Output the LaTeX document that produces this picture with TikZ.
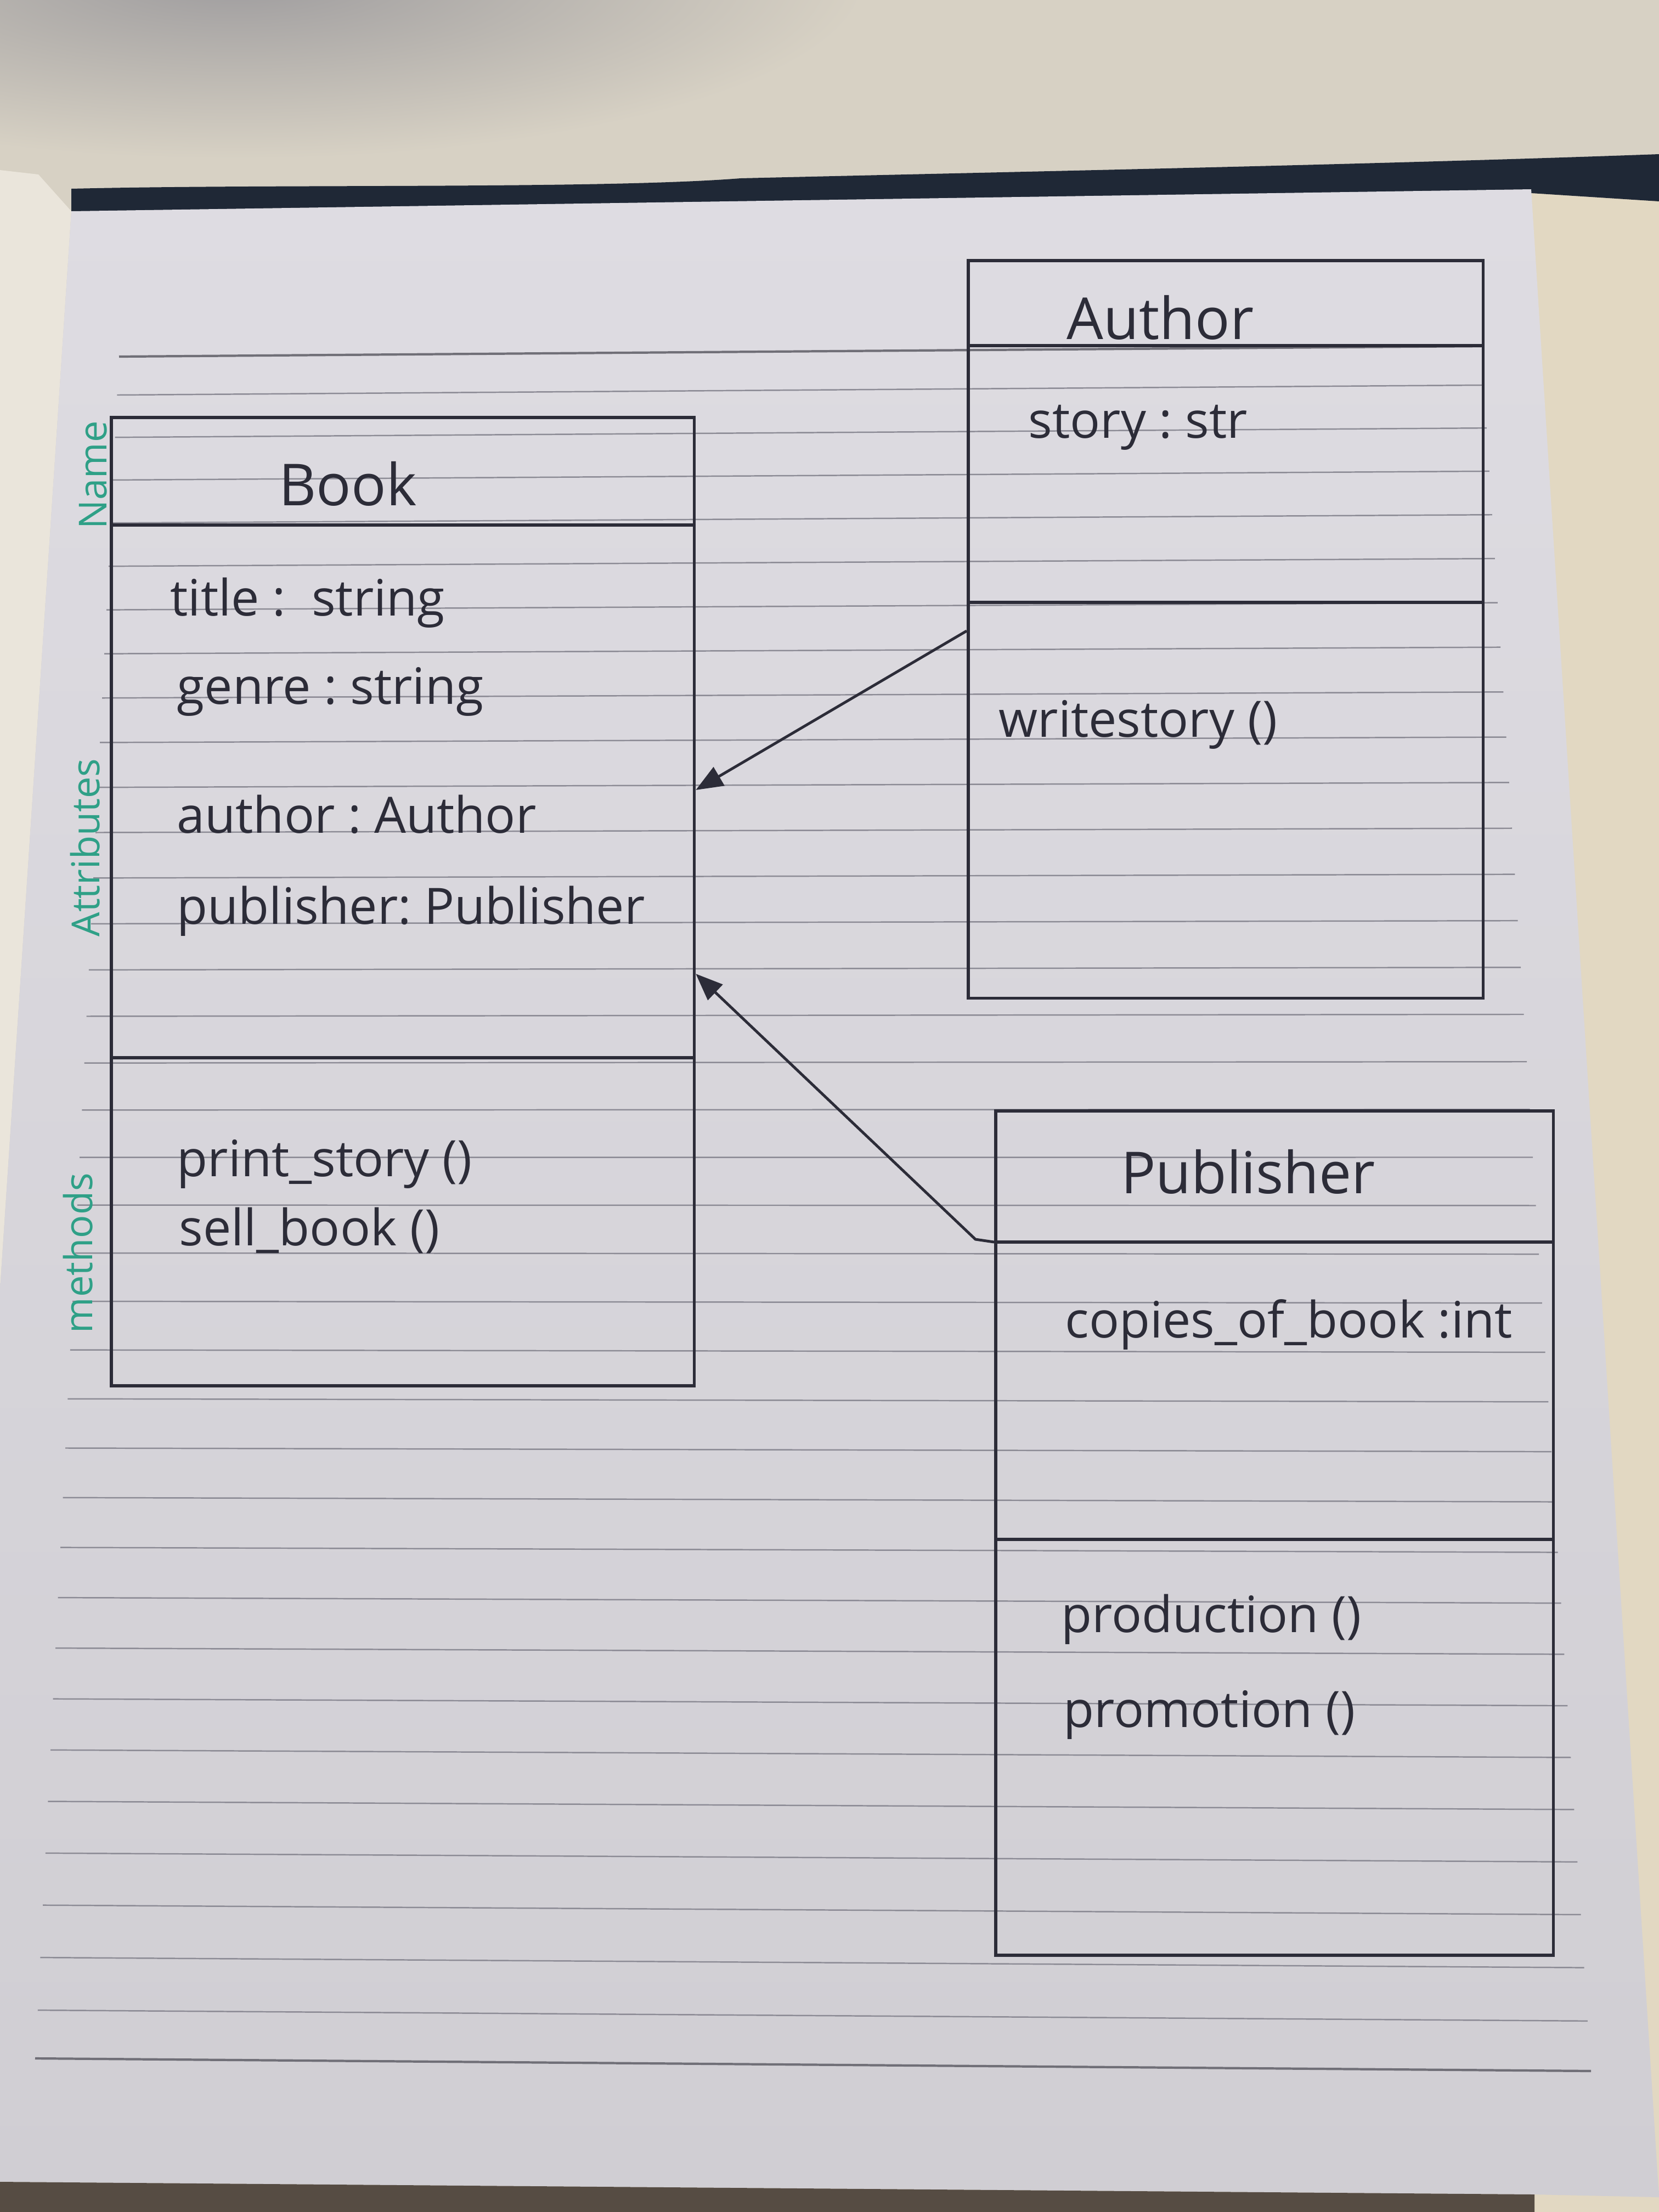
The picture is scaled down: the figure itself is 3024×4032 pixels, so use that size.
\documentclass[tikz,border=0pt]{standalone}
\usepackage{fontspec}
\setmainfont{Open Sans}
\usetikzlibrary{arrows.meta,calc}

\definecolor{desk}{HTML}{D7D1C4}
\definecolor{deskwarm}{HTML}{E2D8C2}
\definecolor{blobc}{HTML}{9E9C9E}
\definecolor{prevpage}{HTML}{EAE5DB}
\definecolor{bindc}{HTML}{1F2836}
\definecolor{papertop}{HTML}{DEDCE2}
\definecolor{paperbot}{HTML}{D0CED3}
\definecolor{floorc}{HTML}{564C43}
\definecolor{rulec}{HTML}{8C8B95}
\definecolor{inkc}{HTML}{2C2C38}
\definecolor{tealc}{HTML}{2FA087}

\begin{document}
\begin{tikzpicture}[x=0.01cm,y=-0.01cm,
  ink/.style={draw=inkc, line width=1.6pt},
  classbox/.style={ink, rectangle, inner sep=0pt, anchor=north west},
  cname/.style={font=\fontsize{30}{36}\selectfont, text=inkc, anchor=base, inner sep=0pt},
  member/.style={font=\fontsize{26}{31}\selectfont, text=inkc, anchor=base west, inner sep=0pt},
  margin/.style={font=\fontsize{20}{24}\selectfont, text=tealc, rotate=90, inner sep=0pt},
  assoc/.style={draw=inkc, line width=1.4pt, -{Triangle[length=14pt,width=11pt]}},
  ruling/.style={draw=rulec, line width=0.7pt},
  heavyruling/.style={draw=rulec!80!black, line width=1.2pt},
]
\useasboundingbox (0,0) rectangle (3024,4032);

% desk, shadow and the neighbouring page
\fill[desk] (0,0) rectangle (3024,4032);
\shade[inner color=blobc, outer color=desk] (430,-40) ellipse (1150 and 330);
\fill[deskwarm] (2791,345) -- (3024,330) -- (3024,4032) -- (2797,4032) -- cycle;
\fill[prevpage] (0,310) -- (70,318) -- (130,385) -- (0,2350) -- cycle;

% notebook binding strip
\fill[bindc] (130,344) .. controls (500,335) and (1100,345) .. (1350,325)
  .. controls (1900,312) and (2500,300) .. (3024,281)
  -- (3024,367) -- (2791,352) -- (130,388) -- cycle;

% the page
\shade[top color=papertop, bottom color=paperbot]
  (130,385) -- (2791,345) -- (3024,4005) -- (2797,4000) -- (0,3977) -- (0,2350) -- cycle;
\fill[floorc] (0,3977) -- (2797,4000) -- (2797,4032) -- (0,4032) -- cycle;

% ruled lines
\draw[heavyruling] (217,650) -- (2700,631);
\foreach \k in {0,...,34} {
  \pgfmathsetmacro{\yy}{720+76.9*\k+0.285*\k*\k}
  \pgfmathsetmacro{\xl}{217-(\yy-645)*0.0491}
  \pgfmathsetmacro{\xr}{2700+(\yy-645)*0.0642}
  \pgfmathsetmacro{\yr}{\yy-19+(\yy-645)*0.01284}
  \draw[ruling] (\xl,\yy) -- (\xr,\yr);
}
\draw[heavyruling] (64,3752) -- (2900,3775);

% class Book
\node[classbox, minimum width=10.62cm, minimum height=17.64cm] (book) at (200,758) {};
\draw[ink] (book.west |- 0,957) -- (book.east |- 0,957);
\draw[ink] (book.west |- 0,1928) -- (book.east |- 0,1928);
\node[cname] (bookname) at (634,921) {Book};
\node[member] (btitle) at (310,1122) {title :\ \ string};
\node[member] (bgenre) at (322,1283) {genre :\ string};
\node[member] (bauthor) at (322,1518) {author :\ Author};
\node[member] (bpub) at (322,1684) {publisher:\ Publisher};
\node[member] (bprint) at (322,2144) {print\_story ()};
\node[member] (bsell) at (326,2270) {sell\_book ()};

% compartment labels in the margin
\node[margin] (lname) at (170,866) {Name};
\node[margin] (lattr) at (155,1545) {Attributes};
\node[margin] (lmeth) at (142,2284) {methods};

% class Author
\node[classbox, minimum width=9.38cm, minimum height=13.44cm] (author) at (1762,472) {};
\draw[ink] (author.west |- 0,630) -- (author.east |- 0,630);
\draw[ink] (author.west |- 0,1098) -- (author.east |- 0,1098);
\node[cname] (authorname) at (2115,618) {Author};
\node[member] (astory) at (1874,798) {story :\ str};
\node[member] (awrite) at (1820,1343) {writestory ()};

% class Publisher
\node[classbox, minimum width=10.16cm, minimum height=15.38cm] (publisher) at (1812,2022) {};
\draw[ink] (publisher.west |- 0,2264) -- (publisher.east |- 0,2264);
\draw[ink] (publisher.west |- 0,2806) -- (publisher.east |- 0,2806);
\node[cname] (pubname) at (2275,2175) {Publisher};
\node[member] (pcopies) at (1941,2438) {copies\_of\_book :int};
\node[member] (pprod) at (1934,2975) {production ()};
\node[member] (pprom) at (1938,3148) {promotion ()};

% associations into Book
\coordinate (aout) at (author.west |- 0,1150);
\coordinate (bin1) at (book.east |- 0,1440);
\draw[assoc] (aout) -- (bin1);
\coordinate (pout) at (publisher.west |- 0,2264);
\coordinate (pbend) at (1778,2259);
\coordinate (bin2) at (book.east |- 0,1775);
\draw[assoc] (pout) -- (pbend) -- (bin2);
\end{tikzpicture}
\end{document}
